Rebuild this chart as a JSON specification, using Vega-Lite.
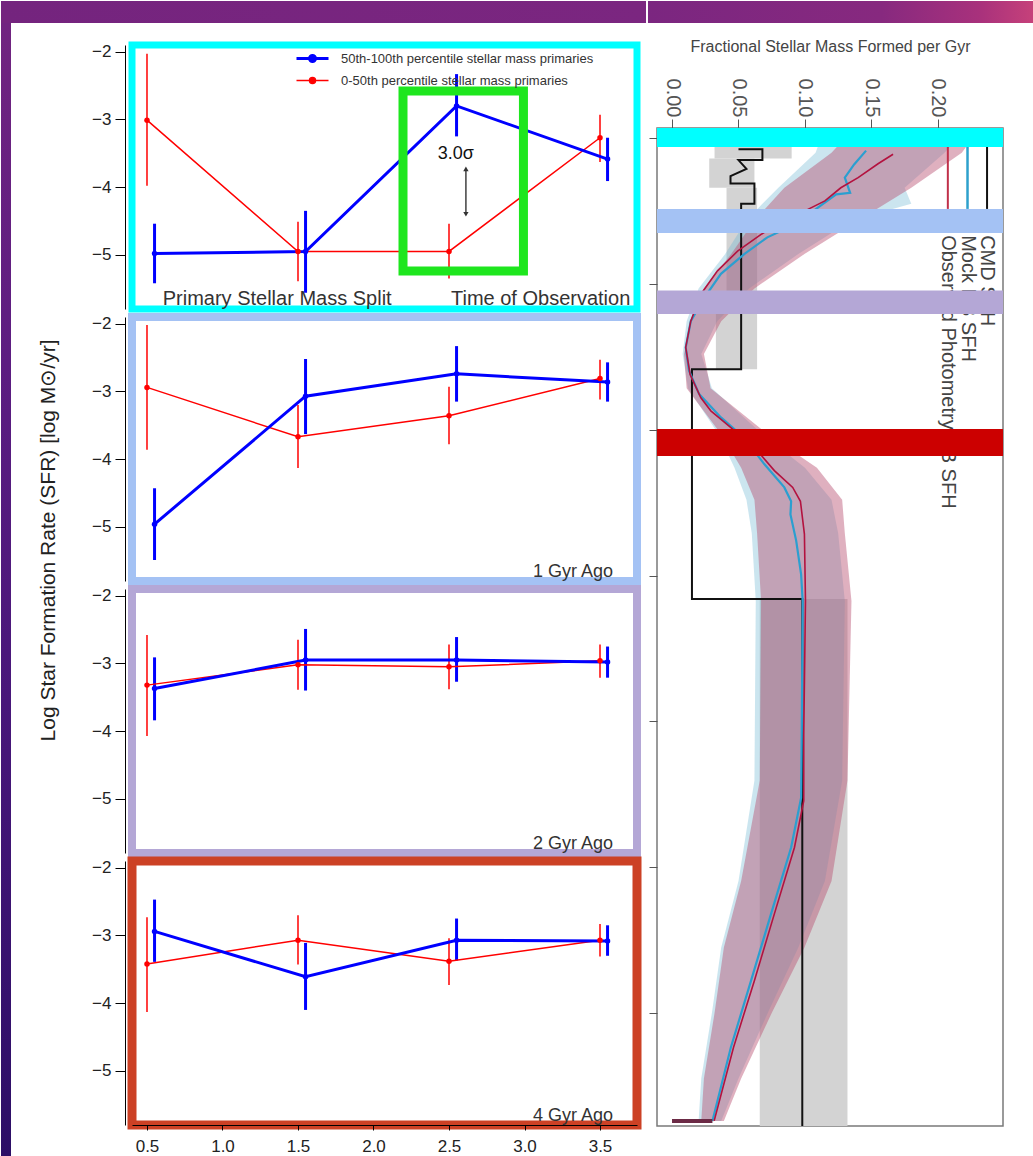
{
"$schema": "https://vega.github.io/schema/vega-lite/v6.json",
"padding": 0,
"background": "#ffffff",
"config": {
  "font": "Liberation Sans",
  "view": {"stroke": null},
  "axis": {"grid": false, "titleFontWeight": "normal"},
  "legend": {"padding": 0}
},
"datasets": {
  "sfr": [
    {"panel": "obs", "series": "low", "x": 0.5, "y": -3.01, "lo": -3.98, "hi": -2.03},
    {"panel": "obs", "series": "low", "x": 1.5, "y": -4.95, "lo": -5.39, "hi": -4.51},
    {"panel": "obs", "series": "low", "x": 2.5, "y": -4.95, "lo": -5.35, "hi": -4.54},
    {"panel": "obs", "series": "low", "x": 3.5, "y": -3.27, "lo": -3.63, "hi": -2.93},
    {"panel": "obs", "series": "high", "x": 0.55, "y": -4.98, "lo": -5.42, "hi": -4.54},
    {"panel": "obs", "series": "high", "x": 1.55, "y": -4.95, "lo": -5.56, "hi": -4.35},
    {"panel": "obs", "series": "high", "x": 2.55, "y": -2.80, "lo": -3.25, "hi": -2.33},
    {"panel": "obs", "series": "high", "x": 3.55, "y": -3.585, "lo": -3.91, "hi": -3.27},
    {"panel": "g1", "series": "low", "x": 0.5, "y": -2.94, "lo": -3.86, "hi": -2.02},
    {"panel": "g1", "series": "low", "x": 1.5, "y": -3.67, "lo": -4.13, "hi": -3.20},
    {"panel": "g1", "series": "low", "x": 2.5, "y": -3.36, "lo": -3.78, "hi": -2.93},
    {"panel": "g1", "series": "low", "x": 3.5, "y": -2.81, "lo": -3.12, "hi": -2.53},
    {"panel": "g1", "series": "high", "x": 0.55, "y": -4.96, "lo": -5.49, "hi": -4.43},
    {"panel": "g1", "series": "high", "x": 1.55, "y": -3.07, "lo": -3.63, "hi": -2.52},
    {"panel": "g1", "series": "high", "x": 2.55, "y": -2.74, "lo": -3.15, "hi": -2.33},
    {"panel": "g1", "series": "high", "x": 3.55, "y": -2.86, "lo": -3.15, "hi": -2.57},
    {"panel": "g2", "series": "low", "x": 0.5, "y": -3.32, "lo": -4.07, "hi": -2.58},
    {"panel": "g2", "series": "low", "x": 1.5, "y": -3.02, "lo": -3.39, "hi": -2.65},
    {"panel": "g2", "series": "low", "x": 2.5, "y": -3.05, "lo": -3.38, "hi": -2.72},
    {"panel": "g2", "series": "low", "x": 3.5, "y": -2.96, "lo": -3.21, "hi": -2.72},
    {"panel": "g2", "series": "high", "x": 0.55, "y": -3.37, "lo": -3.84, "hi": -2.91},
    {"panel": "g2", "series": "high", "x": 1.55, "y": -2.95, "lo": -3.40, "hi": -2.49},
    {"panel": "g2", "series": "high", "x": 2.55, "y": -2.95, "lo": -3.27, "hi": -2.61},
    {"panel": "g2", "series": "high", "x": 3.55, "y": -2.98, "lo": -3.21, "hi": -2.75},
    {"panel": "g4", "series": "low", "x": 0.5, "y": -3.42, "lo": -4.13, "hi": -2.73},
    {"panel": "g4", "series": "low", "x": 1.5, "y": -3.07, "lo": -3.43, "hi": -2.70},
    {"panel": "g4", "series": "low", "x": 2.5, "y": -3.38, "lo": -3.73, "hi": -3.04},
    {"panel": "g4", "series": "low", "x": 3.5, "y": -3.07, "lo": -3.31, "hi": -2.83},
    {"panel": "g4", "series": "high", "x": 0.55, "y": -2.94, "lo": -3.39, "hi": -2.47},
    {"panel": "g4", "series": "high", "x": 1.55, "y": -3.61, "lo": -4.10, "hi": -3.11},
    {"panel": "g4", "series": "high", "x": 2.55, "y": -3.07, "lo": -3.37, "hi": -2.75},
    {"panel": "g4", "series": "high", "x": 3.55, "y": -3.08, "lo": -3.30, "hi": -2.85}
  ],
  "cmd": [
    {"i": 0, "f": 0.050, "t": 0.15}, {"i": 1, "f": 0.068, "t": 0.15}, {"i": 2, "f": 0.068, "t": 0.30},
    {"i": 3, "f": 0.050, "t": 0.30}, {"i": 4, "f": 0.056, "t": 0.42}, {"i": 5, "f": 0.044, "t": 0.52},
    {"i": 6, "f": 0.044, "t": 0.62}, {"i": 7, "f": 0.062, "t": 0.62}, {"i": 8, "f": 0.062, "t": 0.90},
    {"i": 9, "f": 0.052, "t": 0.90}, {"i": 10, "f": 0.052, "t": 3.17}, {"i": 11, "f": 0.015, "t": 3.17},
    {"i": 12, "f": 0.015, "t": 6.32}, {"i": 13, "f": 0.098, "t": 6.32}, {"i": 14, "f": 0.098, "t": 13.55}
  ],
  "mock": [
    {"i": 0, "f": 0.146, "t": 0.17}, {"i": 1, "f": 0.137, "t": 0.36}, {"i": 2, "f": 0.130, "t": 0.54},
    {"i": 3, "f": 0.134, "t": 0.75}, {"i": 4, "f": 0.1235, "t": 0.77}, {"i": 5, "f": 0.110, "t": 0.95},
    {"i": 6, "f": 0.0928, "t": 1.18}, {"i": 7, "f": 0.0717, "t": 1.36}, {"i": 8, "f": 0.0543, "t": 1.59},
    {"i": 9, "f": 0.0368, "t": 1.86}, {"i": 10, "f": 0.0242, "t": 2.19}, {"i": 11, "f": 0.0141, "t": 2.51},
    {"i": 12, "f": 0.0103, "t": 2.87}, {"i": 13, "f": 0.0128, "t": 3.19}, {"i": 14, "f": 0.0204, "t": 3.51},
    {"i": 15, "f": 0.0368, "t": 3.83}, {"i": 16, "f": 0.0543, "t": 4.11}, {"i": 17, "f": 0.0694, "t": 4.47},
    {"i": 18, "f": 0.0845, "t": 4.79}, {"i": 19, "f": 0.0896, "t": 4.98}, {"i": 20, "f": 0.0891, "t": 5.16},
    {"i": 21, "f": 0.0934, "t": 5.52}, {"i": 22, "f": 0.0971, "t": 5.98}, {"i": 23, "f": 0.0983, "t": 6.35},
    {"i": 24, "f": 0.0976, "t": 8.17}, {"i": 25, "f": 0.0971, "t": 9.05}, {"i": 26, "f": 0.0896, "t": 9.73},
    {"i": 27, "f": 0.0745, "t": 10.64}, {"i": 28, "f": 0.0594, "t": 11.56}, {"i": 29, "f": 0.0443, "t": 12.47},
    {"i": 30, "f": 0.0304, "t": 13.48}
  ],
  "obs": [
    {"i": 0, "f": 0.1663, "t": 0.22}, {"i": 1, "f": 0.155, "t": 0.35}, {"i": 2, "f": 0.140, "t": 0.54},
    {"i": 3, "f": 0.127, "t": 0.68}, {"i": 4, "f": 0.115, "t": 0.86}, {"i": 5, "f": 0.0996, "t": 1.0},
    {"i": 6, "f": 0.0845, "t": 1.13}, {"i": 7, "f": 0.067, "t": 1.32}, {"i": 8, "f": 0.0493, "t": 1.55},
    {"i": 9, "f": 0.0342, "t": 1.82}, {"i": 10, "f": 0.0217, "t": 2.14}, {"i": 11, "f": 0.0141, "t": 2.51},
    {"i": 12, "f": 0.0103, "t": 2.87}, {"i": 13, "f": 0.0136, "t": 3.24}, {"i": 14, "f": 0.0217, "t": 3.56},
    {"i": 15, "f": 0.0292, "t": 3.74}, {"i": 16, "f": 0.0443, "t": 3.97}, {"i": 17, "f": 0.0619, "t": 4.24},
    {"i": 18, "f": 0.077, "t": 4.56}, {"i": 19, "f": 0.0908, "t": 4.79}, {"i": 20, "f": 0.0966, "t": 4.98},
    {"i": 21, "f": 0.0996, "t": 5.43}, {"i": 22, "f": 0.1004, "t": 6.35}, {"i": 23, "f": 0.0991, "t": 8.18},
    {"i": 24, "f": 0.0991, "t": 9.09}, {"i": 25, "f": 0.0921, "t": 9.73}, {"i": 26, "f": 0.077, "t": 10.64},
    {"i": 27, "f": 0.0619, "t": 11.56}, {"i": 28, "f": 0.0463, "t": 12.47}, {"i": 29, "f": 0.0317, "t": 13.48}
  ],
  "obsband": [
    {"t": 0.1, "lo": 0.125, "hi": 0.222}, {"t": 0.2, "lo": 0.12, "hi": 0.218}, {"t": 0.68, "lo": 0.0845, "hi": 0.18},
    {"t": 1.13, "lo": 0.062, "hi": 0.14}, {"t": 1.59, "lo": 0.0445, "hi": 0.0996}, {"t": 2.06, "lo": 0.024, "hi": 0.062},
    {"t": 2.51, "lo": 0.0143, "hi": 0.037}, {"t": 2.96, "lo": 0.009, "hi": 0.024}, {"t": 3.43, "lo": 0.011, "hi": 0.029},
    {"t": 4.06, "lo": 0.037, "hi": 0.072}, {"t": 4.52, "lo": 0.052, "hi": 0.109}, {"t": 4.96, "lo": 0.062, "hi": 0.128},
    {"t": 5.42, "lo": 0.064, "hi": 0.13}, {"t": 6.35, "lo": 0.067, "hi": 0.135}, {"t": 8.81, "lo": 0.066, "hi": 0.132},
    {"t": 10.19, "lo": 0.052, "hi": 0.12}, {"t": 11.1, "lo": 0.039, "hi": 0.0996}, {"t": 12.0, "lo": 0.032, "hi": 0.075},
    {"t": 12.9, "lo": 0.024, "hi": 0.052}, {"t": 13.48, "lo": 0.022, "hi": 0.039}
  ],
  "mockband": [
    {"t": 0.1, "lo": 0.11, "hi": 0.21}, {"t": 0.2, "lo": 0.108, "hi": 0.205}, {"t": 0.68, "lo": 0.08, "hi": 0.175},
    {"t": 0.9, "lo": 0.068, "hi": 0.18}, {"t": 1.13, "lo": 0.056, "hi": 0.135}, {"t": 1.59, "lo": 0.04, "hi": 0.095},
    {"t": 2.06, "lo": 0.02, "hi": 0.058}, {"t": 2.51, "lo": 0.011, "hi": 0.034}, {"t": 2.96, "lo": 0.008, "hi": 0.022},
    {"t": 3.43, "lo": 0.012, "hi": 0.03}, {"t": 4.06, "lo": 0.035, "hi": 0.068}, {"t": 4.52, "lo": 0.047, "hi": 0.1},
    {"t": 4.96, "lo": 0.056, "hi": 0.12}, {"t": 5.42, "lo": 0.06, "hi": 0.125}, {"t": 6.35, "lo": 0.063, "hi": 0.13},
    {"t": 8.81, "lo": 0.062, "hi": 0.128}, {"t": 10.19, "lo": 0.05, "hi": 0.115}, {"t": 11.1, "lo": 0.037, "hi": 0.095},
    {"t": 12.0, "lo": 0.03, "hi": 0.072}, {"t": 12.9, "lo": 0.022, "hi": 0.05}, {"t": 13.48, "lo": 0.02, "hi": 0.037}
  ],
  "cmdband": [
    {"f1": 0.032, "f2": 0.09, "t1": 0.12, "t2": 0.28},
    {"f1": 0.028, "f2": 0.062, "t1": 0.28, "t2": 0.68},
    {"f1": 0.041, "f2": 0.064, "t1": 0.68, "t2": 2.3},
    {"f1": 0.033, "f2": 0.064, "t1": 2.3, "t2": 3.17},
    {"f1": 0.066, "f2": 0.132, "t1": 6.32, "t2": 13.55}
  ],
  "keys": [
    {"key": "obs", "f": 0.2075, "t1": 0.1, "t2": 0.97, "ts": 1.33, "label": "Observed Photometry DB SFH"},
    {"key": "mock", "f": 0.2223, "t1": 0.1, "t2": 0.97, "ts": 1.33, "label": "Mock DB SFH"},
    {"key": "cmd", "f": 0.237, "t1": 0.1, "t2": 0.97, "ts": 1.33, "label": "CMD SFH"}
  ],
  "highlight": [
    {"band": "obs", "t1": -0.14, "t2": 0.12},
    {"band": "g1", "t1": 0.97, "t2": 1.30},
    {"band": "g2", "t1": 2.09, "t2": 2.41},
    {"band": "g4", "t1": 3.99, "t2": 4.36}
  ]
},
"spacing": 0,
"bounds": "full",
"resolve": {"scale": {"x": "independent", "y": "independent"}},
"hconcat": [
  {
    "spacing": 8,
    "bounds": "flush",
    "resolve": {"scale": {"x": "independent", "y": "independent", "color": "independent", "strokeWidth": "independent", "shape": "independent"}, "legend": {"color": "independent", "strokeWidth": "independent", "shape": "independent"}},
    "vconcat": [
      {
        "width": 505, "height": 14,
        "data": {"values": [{"part": "slide"}]},
        "layer": [
          {
            "mark": {"type": "rect", "color": {"gradient": "linear", "x1": 0, "y1": 0, "x2": 1, "y2": 0, "stops": [{"offset": 0, "color": "#74247e"}, {"offset": 1, "color": "#7b2680"}]}},
            "encoding": {
              "x": {"datum": -0.4669, "type": "quantitative", "scale": {"domain": [0.4007, 3.745], "nice": false, "zero": false}, "axis": null},
              "x2": {"datum": 3.8047},
              "y": {"datum": 2.5714, "type": "quantitative", "scale": {"domain": [0, 1], "nice": false, "zero": false}, "axis": null},
              "y2": {"datum": 1.0}
            }
          },
          {
            "mark": {"type": "rect", "color": {"gradient": "linear", "x1": 0, "y1": 0, "x2": 0, "y2": 1, "stops": [{"offset": 0, "color": "#712480"}, {"offset": 0.3, "color": "#5c1d81"}, {"offset": 0.6, "color": "#48177a"}, {"offset": 1, "color": "#2c0e66"}]}},
            "encoding": {
              "x": {"datum": -0.4669, "type": "quantitative", "axis": null},
              "x2": {"datum": -0.4006},
              "y": {"datum": 1.0, "type": "quantitative", "axis": null},
              "y2": {"datum": -80.0}
            }
          }
        ]
      },
      {
        "width": 505, "height": 264,
        "view": {"stroke": "#00ffff", "strokeWidth": 7},
        "data": {"name": "sfr"},
        "transform": [{"filter": "datum.panel == 'obs'"}],
        "layer": [
          {
            "mark": {"type": "rule"},
            "encoding": {
              "x": {"field": "x", "type": "quantitative", "scale": {"domain": [0.4007, 3.745], "nice": false, "zero": false}, "axis": null},
              "y": {"field": "lo", "type": "quantitative", "scale": {"domain": [-5.8, -1.9], "nice": false, "zero": false}, "axis": {"orient": "left", "values": [-2, -3, -4, -5], "offset": 7, "tickSize": 10, "labelPadding": 4, "labelFontSize": 17, "title": null, "domainColor": "#000000", "tickColor": "#000000", "labelColor": "#222222"}},
              "y2": {"field": "hi"},
              "color": {"field": "series", "type": "nominal", "scale": {"domain": ["high", "low"], "range": ["#0000ff", "#ff0000"]},
                "legend": {"orient": "none", "legendX": 174, "legendY": 7, "title": null, "direction": "vertical",
                  "symbolType": "M-4,0H4M-0.75,0A0.75,0.75,0,1,0,0.75,0A0.75,0.75,0,1,0,-0.75,0Z", "symbolSize": 64,
                  "labelExpr": "datum.value == 'high' ? '50th-100th percentile stellar mass primaries' : '0-50th percentile stellar mass primaries'",
                  "labelFontSize": 13, "labelColor": "#333333", "labelOffset": 22, "labelLimit": 400, "rowPadding": 6, "padding": 0,
                  "encode": {"symbols": {"update": {"fill": {"signal": "datum.value == 'high' ? '#0000ff' : '#ff0000'"}, "stroke": {"signal": "datum.value == 'high' ? '#0000ff' : '#ff0000'"}, "strokeWidth": {"signal": "datum.value == 'high' ? 3 : 1.5"}}}}}},
              "strokeWidth": {"field": "series", "type": "ordinal", "scale": {"domain": ["high", "low"], "range": [3, 1.5]}, "legend": null}
            }
          },
          {
            "mark": {"type": "line"},
            "encoding": {
              "x": {"field": "x", "type": "quantitative", "axis": null},
              "y": {"field": "y", "type": "quantitative", "axis": {"orient": "left", "values": [-2, -3, -4, -5], "offset": 7, "tickSize": 10, "labelPadding": 4, "labelFontSize": 17, "title": null, "domainColor": "#000000", "tickColor": "#000000", "labelColor": "#222222"}},
              "color": {"field": "series", "type": "nominal", "scale": {"domain": ["high", "low"], "range": ["#0000ff", "#ff0000"]},
                "legend": {"orient": "none", "legendX": 174, "legendY": 7, "title": null, "direction": "vertical",
                  "symbolType": "M-4,0H4M-0.75,0A0.75,0.75,0,1,0,0.75,0A0.75,0.75,0,1,0,-0.75,0Z", "symbolSize": 64,
                  "labelExpr": "datum.value == 'high' ? '50th-100th percentile stellar mass primaries' : '0-50th percentile stellar mass primaries'",
                  "labelFontSize": 13, "labelColor": "#333333", "labelOffset": 22, "labelLimit": 400, "rowPadding": 6, "padding": 0,
                  "encode": {"symbols": {"update": {"fill": {"signal": "datum.value == 'high' ? '#0000ff' : '#ff0000'"}, "stroke": {"signal": "datum.value == 'high' ? '#0000ff' : '#ff0000'"}, "strokeWidth": {"signal": "datum.value == 'high' ? 3 : 1.5"}}}}}},
              "strokeWidth": {"field": "series", "type": "ordinal", "scale": {"domain": ["high", "low"], "range": [3, 1.5]}, "legend": null}
            }
          },
          {
            "mark": {"type": "point", "filled": true, "size": 30, "opacity": 1},
            "encoding": {
              "x": {"field": "x", "type": "quantitative", "axis": null},
              "y": {"field": "y", "type": "quantitative", "axis": {"orient": "left", "values": [-2, -3, -4, -5], "offset": 7, "tickSize": 10, "labelPadding": 4, "labelFontSize": 17, "title": null, "domainColor": "#000000", "tickColor": "#000000", "labelColor": "#222222"}},
              "color": {"field": "series", "type": "nominal", "scale": {"domain": ["high", "low"], "range": ["#0000ff", "#ff0000"]},
                "legend": {"orient": "none", "legendX": 174, "legendY": 7, "title": null, "direction": "vertical",
                  "symbolType": "M-4,0H4M-0.75,0A0.75,0.75,0,1,0,0.75,0A0.75,0.75,0,1,0,-0.75,0Z", "symbolSize": 64,
                  "labelExpr": "datum.value == 'high' ? '50th-100th percentile stellar mass primaries' : '0-50th percentile stellar mass primaries'",
                  "labelFontSize": 13, "labelColor": "#333333", "labelOffset": 22, "labelLimit": 400, "rowPadding": 6, "padding": 0,
                  "encode": {"symbols": {"update": {"fill": {"signal": "datum.value == 'high' ? '#0000ff' : '#ff0000'"}, "stroke": {"signal": "datum.value == 'high' ? '#0000ff' : '#ff0000'"}, "strokeWidth": {"signal": "datum.value == 'high' ? 3 : 1.5"}}}}}}
            }
          },
          {
            "data": {"values": [{"x1": 2.1954, "x2": 2.993, "y1": -2.579, "y2": -5.238}]},
            "mark": {"type": "rect", "fillOpacity": 0, "stroke": "#1ee61e", "strokeWidth": 9},
            "encoding": {
              "x": {"field": "x1", "type": "quantitative", "axis": null}, "x2": {"field": "x2"},
              "y": {"field": "y1", "type": "quantitative", "axis": {"orient": "left", "values": [-2, -3, -4, -5], "offset": 7, "tickSize": 10, "labelPadding": 4, "labelFontSize": 17, "title": null, "domainColor": "#000000", "tickColor": "#000000", "labelColor": "#222222"}}, "y2": {"field": "y2"}
            }
          },
          {
            "data": {"values": [{"label": "Primary Stellar Mass Split", "x": 0.604, "y": -5.745}, {"label": "Time of Observation", "x": 2.513, "y": -5.745}]},
            "mark": {"type": "text", "align": "left", "baseline": "alphabetic", "fontSize": 20, "color": "#333333"},
            "encoding": {
              "x": {"field": "x", "type": "quantitative", "axis": null},
              "y": {"field": "y", "type": "quantitative", "axis": {"orient": "left", "values": [-2, -3, -4, -5], "offset": 7, "tickSize": 10, "labelPadding": 4, "labelFontSize": 17, "title": null, "domainColor": "#000000", "tickColor": "#000000", "labelColor": "#222222"}},
              "text": {"field": "label"}
            }
          },
          {
            "data": {"values": [{"label": "3.0σ", "x": 2.425, "y": -3.584}]},
            "mark": {"type": "text", "align": "left", "baseline": "alphabetic", "fontSize": 18, "color": "#111111"},
            "encoding": {
              "x": {"field": "x", "type": "quantitative", "axis": null},
              "y": {"field": "y", "type": "quantitative", "axis": {"orient": "left", "values": [-2, -3, -4, -5], "offset": 7, "tickSize": 10, "labelPadding": 4, "labelFontSize": 17, "title": null, "domainColor": "#000000", "tickColor": "#000000", "labelColor": "#222222"}},
              "text": {"field": "label"}
            }
          },
          {
            "data": {"values": [{"x": 2.612, "y1": -3.73, "y2": -4.40}]},
            "mark": {"type": "rule", "color": "#333333", "strokeWidth": 1.4},
            "encoding": {
              "x": {"field": "x", "type": "quantitative", "axis": null},
              "y": {"field": "y1", "type": "quantitative", "axis": {"orient": "left", "values": [-2, -3, -4, -5], "offset": 7, "tickSize": 10, "labelPadding": 4, "labelFontSize": 17, "title": null, "domainColor": "#000000", "tickColor": "#000000", "labelColor": "#222222"}}, "y2": {"field": "y2"}
            }
          },
          {
            "data": {"values": [{"x": 2.612, "y": -3.73, "dir": "up"}, {"x": 2.612, "y": -4.40, "dir": "down"}]},
            "mark": {"type": "point", "filled": true, "size": 28, "color": "#333333", "opacity": 1},
            "encoding": {
              "x": {"field": "x", "type": "quantitative", "axis": null},
              "y": {"field": "y", "type": "quantitative", "axis": {"orient": "left", "values": [-2, -3, -4, -5], "offset": 7, "tickSize": 10, "labelPadding": 4, "labelFontSize": 17, "title": null, "domainColor": "#000000", "tickColor": "#000000", "labelColor": "#222222"}},
              "shape": {"field": "dir", "type": "nominal", "scale": {"domain": ["up", "down"], "range": ["triangle-up", "triangle-down"]}, "legend": null}
            }
          }
        ]
      },
      {
        "width": 505, "height": 264,
        "view": {"stroke": "#a4c2f4", "strokeWidth": 8},
        "data": {"name": "sfr"},
        "transform": [{"filter": "datum.panel == 'g1'"}],
        "layer": [
          {
            "mark": {"type": "rule"},
            "encoding": {
              "x": {"field": "x", "type": "quantitative", "scale": {"domain": [0.4007, 3.745], "nice": false, "zero": false}, "axis": null},
              "y": {"field": "lo", "type": "quantitative", "scale": {"domain": [-5.8, -1.9], "nice": false, "zero": false}, "axis": {"orient": "left", "values": [-2, -3, -4, -5], "offset": 7, "tickSize": 10, "labelPadding": 4, "labelFontSize": 17, "domainColor": "#000000", "tickColor": "#000000", "labelColor": "#222222", "title": "Log Star Formation Rate (SFR) [log M⊙/yr]", "titleFontSize": 21, "titleFontWeight": "normal", "titleColor": "#222222", "titleAngle": 270, "titleAlign": "center", "titleBaseline": "alphabetic", "titleX": -71, "titleY": 223}},
              "y2": {"field": "hi"},
              "color": {"field": "series", "type": "nominal", "scale": {"domain": ["high", "low"], "range": ["#0000ff", "#ff0000"]}, "legend": null},
              "strokeWidth": {"field": "series", "type": "ordinal", "scale": {"domain": ["high", "low"], "range": [3, 1.5]}, "legend": null}
            }
          },
          {
            "mark": {"type": "line"},
            "encoding": {
              "x": {"field": "x", "type": "quantitative", "axis": null},
              "y": {"field": "y", "type": "quantitative", "axis": {"orient": "left", "values": [-2, -3, -4, -5], "offset": 7, "tickSize": 10, "labelPadding": 4, "labelFontSize": 17, "domainColor": "#000000", "tickColor": "#000000", "labelColor": "#222222", "title": "Log Star Formation Rate (SFR) [log M⊙/yr]", "titleFontSize": 21, "titleFontWeight": "normal", "titleColor": "#222222", "titleAngle": 270, "titleAlign": "center", "titleBaseline": "alphabetic", "titleX": -71, "titleY": 223}},
              "color": {"field": "series", "type": "nominal", "scale": {"domain": ["high", "low"], "range": ["#0000ff", "#ff0000"]}, "legend": null},
              "strokeWidth": {"field": "series", "type": "ordinal", "scale": {"domain": ["high", "low"], "range": [3, 1.5]}, "legend": null}
            }
          },
          {
            "mark": {"type": "point", "filled": true, "size": 30, "opacity": 1},
            "encoding": {
              "x": {"field": "x", "type": "quantitative", "axis": null},
              "y": {"field": "y", "type": "quantitative", "axis": {"orient": "left", "values": [-2, -3, -4, -5], "offset": 7, "tickSize": 10, "labelPadding": 4, "labelFontSize": 17, "domainColor": "#000000", "tickColor": "#000000", "labelColor": "#222222", "title": "Log Star Formation Rate (SFR) [log M⊙/yr]", "titleFontSize": 21, "titleFontWeight": "normal", "titleColor": "#222222", "titleAngle": 270, "titleAlign": "center", "titleBaseline": "alphabetic", "titleX": -71, "titleY": 223}},
              "color": {"field": "series", "type": "nominal", "scale": {"domain": ["high", "low"], "range": ["#0000ff", "#ff0000"]}, "legend": null}
            }
          },
          {
            "data": {"values": [{"label": "1 Gyr Ago", "x": 3.586, "y": -5.74}]},
            "mark": {"type": "text", "align": "right", "baseline": "alphabetic", "fontSize": 18, "color": "#333333"},
            "encoding": {
              "x": {"field": "x", "type": "quantitative", "axis": null},
              "y": {"field": "y", "type": "quantitative", "axis": {"orient": "left", "values": [-2, -3, -4, -5], "offset": 7, "tickSize": 10, "labelPadding": 4, "labelFontSize": 17, "domainColor": "#000000", "tickColor": "#000000", "labelColor": "#222222", "title": "Log Star Formation Rate (SFR) [log M⊙/yr]", "titleFontSize": 21, "titleFontWeight": "normal", "titleColor": "#222222", "titleAngle": 270, "titleAlign": "center", "titleBaseline": "alphabetic", "titleX": -71, "titleY": 223}},
              "text": {"field": "label"}
            }
          }
        ]
      },
      {
        "width": 505, "height": 264,
        "view": {"stroke": "#b4a7d6", "strokeWidth": 8},
        "data": {"name": "sfr"},
        "transform": [{"filter": "datum.panel == 'g2'"}],
        "layer": [
          {
            "mark": {"type": "rule"},
            "encoding": {
              "x": {"field": "x", "type": "quantitative", "scale": {"domain": [0.4007, 3.745], "nice": false, "zero": false}, "axis": null},
              "y": {"field": "lo", "type": "quantitative", "scale": {"domain": [-5.8, -1.9], "nice": false, "zero": false}, "axis": {"orient": "left", "values": [-2, -3, -4, -5], "offset": 7, "tickSize": 10, "labelPadding": 4, "labelFontSize": 17, "title": null, "domainColor": "#000000", "tickColor": "#000000", "labelColor": "#222222"}},
              "y2": {"field": "hi"},
              "color": {"field": "series", "type": "nominal", "scale": {"domain": ["high", "low"], "range": ["#0000ff", "#ff0000"]}, "legend": null},
              "strokeWidth": {"field": "series", "type": "ordinal", "scale": {"domain": ["high", "low"], "range": [3, 1.5]}, "legend": null}
            }
          },
          {
            "mark": {"type": "line"},
            "encoding": {
              "x": {"field": "x", "type": "quantitative", "axis": null},
              "y": {"field": "y", "type": "quantitative", "axis": {"orient": "left", "values": [-2, -3, -4, -5], "offset": 7, "tickSize": 10, "labelPadding": 4, "labelFontSize": 17, "title": null, "domainColor": "#000000", "tickColor": "#000000", "labelColor": "#222222"}},
              "color": {"field": "series", "type": "nominal", "scale": {"domain": ["high", "low"], "range": ["#0000ff", "#ff0000"]}, "legend": null},
              "strokeWidth": {"field": "series", "type": "ordinal", "scale": {"domain": ["high", "low"], "range": [3, 1.5]}, "legend": null}
            }
          },
          {
            "mark": {"type": "point", "filled": true, "size": 30, "opacity": 1},
            "encoding": {
              "x": {"field": "x", "type": "quantitative", "axis": null},
              "y": {"field": "y", "type": "quantitative", "axis": {"orient": "left", "values": [-2, -3, -4, -5], "offset": 7, "tickSize": 10, "labelPadding": 4, "labelFontSize": 17, "title": null, "domainColor": "#000000", "tickColor": "#000000", "labelColor": "#222222"}},
              "color": {"field": "series", "type": "nominal", "scale": {"domain": ["high", "low"], "range": ["#0000ff", "#ff0000"]}, "legend": null}
            }
          },
          {
            "data": {"values": [{"label": "2 Gyr Ago", "x": 3.586, "y": -5.74}]},
            "mark": {"type": "text", "align": "right", "baseline": "alphabetic", "fontSize": 18, "color": "#333333"},
            "encoding": {
              "x": {"field": "x", "type": "quantitative", "axis": null},
              "y": {"field": "y", "type": "quantitative", "axis": {"orient": "left", "values": [-2, -3, -4, -5], "offset": 7, "tickSize": 10, "labelPadding": 4, "labelFontSize": 17, "title": null, "domainColor": "#000000", "tickColor": "#000000", "labelColor": "#222222"}},
              "text": {"field": "label"}
            }
          }
        ]
      },
      {
        "width": 505, "height": 264,
        "view": {"stroke": "#cc4125", "strokeWidth": 9},
        "data": {"name": "sfr"},
        "transform": [{"filter": "datum.panel == 'g4'"}],
        "layer": [
          {
            "mark": {"type": "rule"},
            "encoding": {
              "x": {"field": "x", "type": "quantitative", "scale": {"domain": [0.4007, 3.745], "nice": false, "zero": false}, "axis": {"orient": "bottom", "values": [0.5, 1, 1.5, 2, 2.5, 3, 3.5], "format": ".1f", "labelFontSize": 17, "tickSize": 5, "labelPadding": 8, "title": null, "domainColor": "#000000", "tickColor": "#000000", "labelColor": "#222222"}},
              "y": {"field": "lo", "type": "quantitative", "scale": {"domain": [-5.8, -1.9], "nice": false, "zero": false}, "axis": {"orient": "left", "values": [-2, -3, -4, -5], "offset": 7, "tickSize": 10, "labelPadding": 4, "labelFontSize": 17, "title": null, "domainColor": "#000000", "tickColor": "#000000", "labelColor": "#222222"}},
              "y2": {"field": "hi"},
              "color": {"field": "series", "type": "nominal", "scale": {"domain": ["high", "low"], "range": ["#0000ff", "#ff0000"]}, "legend": null},
              "strokeWidth": {"field": "series", "type": "ordinal", "scale": {"domain": ["high", "low"], "range": [3, 1.5]}, "legend": null}
            }
          },
          {
            "mark": {"type": "line"},
            "encoding": {
              "x": {"field": "x", "type": "quantitative", "axis": {"orient": "bottom", "values": [0.5, 1, 1.5, 2, 2.5, 3, 3.5], "format": ".1f", "labelFontSize": 17, "tickSize": 5, "labelPadding": 8, "title": null, "domainColor": "#000000", "tickColor": "#000000", "labelColor": "#222222"}},
              "y": {"field": "y", "type": "quantitative", "axis": {"orient": "left", "values": [-2, -3, -4, -5], "offset": 7, "tickSize": 10, "labelPadding": 4, "labelFontSize": 17, "title": null, "domainColor": "#000000", "tickColor": "#000000", "labelColor": "#222222"}},
              "color": {"field": "series", "type": "nominal", "scale": {"domain": ["high", "low"], "range": ["#0000ff", "#ff0000"]}, "legend": null},
              "strokeWidth": {"field": "series", "type": "ordinal", "scale": {"domain": ["high", "low"], "range": [3, 1.5]}, "legend": null}
            }
          },
          {
            "mark": {"type": "point", "filled": true, "size": 30, "opacity": 1},
            "encoding": {
              "x": {"field": "x", "type": "quantitative", "axis": {"orient": "bottom", "values": [0.5, 1, 1.5, 2, 2.5, 3, 3.5], "format": ".1f", "labelFontSize": 17, "tickSize": 5, "labelPadding": 8, "title": null, "domainColor": "#000000", "tickColor": "#000000", "labelColor": "#222222"}},
              "y": {"field": "y", "type": "quantitative", "axis": {"orient": "left", "values": [-2, -3, -4, -5], "offset": 7, "tickSize": 10, "labelPadding": 4, "labelFontSize": 17, "title": null, "domainColor": "#000000", "tickColor": "#000000", "labelColor": "#222222"}},
              "color": {"field": "series", "type": "nominal", "scale": {"domain": ["high", "low"], "range": ["#0000ff", "#ff0000"]}, "legend": null}
            }
          },
          {
            "data": {"values": [{"label": "4 Gyr Ago", "x": 3.586, "y": -5.74}]},
            "mark": {"type": "text", "align": "right", "baseline": "alphabetic", "fontSize": 18, "color": "#333333"},
            "encoding": {
              "x": {"field": "x", "type": "quantitative", "axis": {"orient": "bottom", "values": [0.5, 1, 1.5, 2, 2.5, 3, 3.5], "format": ".1f", "labelFontSize": 17, "tickSize": 5, "labelPadding": 8, "title": null, "domainColor": "#000000", "tickColor": "#000000", "labelColor": "#222222"}},
              "y": {"field": "y", "type": "quantitative", "axis": {"orient": "left", "values": [-2, -3, -4, -5], "offset": 7, "tickSize": 10, "labelPadding": 4, "labelFontSize": 17, "title": null, "domainColor": "#000000", "tickColor": "#000000", "labelColor": "#222222"}},
              "text": {"field": "label"}
            }
          }
        ]
      }
    ]
  },
  {
    "spacing": 8,
    "bounds": "flush",
    "resolve": {"scale": {"x": "independent", "y": "independent"}},
    "vconcat": [
      {
        "width": 346, "height": 97,
        "data": {"values": [{"v": 0}]},
        "mark": {"type": "point", "opacity": 0},
        "encoding": {"y": {"field": "v", "type": "quantitative", "axis": {"orient": "left", "offset": 8, "domainColor": "#ffffff", "ticks": false, "labels": false, "title": null}}}
      },
      {
        "width": 346, "height": 998,
        "view": {"stroke": "#7a7a7a", "strokeWidth": 1.5},
        "layer": [
          {
            "data": {"values": [{"part": "slide top right"}]},
            "mark": {"type": "rect", "color": {"gradient": "linear", "x1": 0, "y1": 0, "x2": 1, "y2": 0, "stops": [{"offset": 0, "color": "#7b2680"}, {"offset": 0.6, "color": "#87297f"}, {"offset": 0.85, "color": "#a8317c"}, {"offset": 1, "color": "#c8427a"}]}},
            "encoding": {
              "x": {"datum": -0.01809, "type": "quantitative", "scale": {"domain": [-0.0113, 0.249], "nice": false, "zero": false}, "axis": {"orient": "top", "values": [0, 0.05, 0.1, 0.15, 0.2], "format": ".2f", "labelAngle": 90, "labelAlign": "right", "labelBaseline": "middle", "labelFontSize": 20, "labelColor": "#555555", "tickColor": "#555555", "tickSize": 9, "labelPadding": 2, "domain": false, "title": "Fractional Stellar Mass Formed per Gyr", "titleFontSize": 16, "titleColor": "#444444", "titlePadding": 24, "titleFontWeight": "normal"}},
              "x2": {"datum": 0.2747},
              "y": {"datum": -1.882, "type": "quantitative", "scale": {"domain": [-0.14, 13.55], "nice": false, "zero": false, "reverse": true}, "axis": {"orient": "left", "values": [0, 2, 4, 6, 8, 10, 12], "labels": false, "tickSize": 8, "tickColor": "#555555", "domain": false, "title": null}},
              "y2": {"datum": -1.58}
            }
          },
          {
            "data": {"name": "cmdband"},
            "mark": {"type": "rect", "color": "#d3d3d3"},
            "encoding": {
              "x": {"field": "f1", "type": "quantitative", "axis": {"orient": "top", "values": [0, 0.05, 0.1, 0.15, 0.2], "format": ".2f", "labelAngle": 90, "labelAlign": "right", "labelBaseline": "middle", "labelFontSize": 20, "labelColor": "#555555", "tickColor": "#555555", "tickSize": 9, "labelPadding": 2, "domain": false, "title": "Fractional Stellar Mass Formed per Gyr", "titleFontSize": 16, "titleColor": "#444444", "titlePadding": 24, "titleFontWeight": "normal"}},
              "x2": {"field": "f2"},
              "y": {"field": "t1", "type": "quantitative", "axis": {"orient": "left", "values": [0, 2, 4, 6, 8, 10, 12], "labels": false, "tickSize": 8, "tickColor": "#555555", "domain": false, "title": null}},
              "y2": {"field": "t2"}
            }
          },
          {
            "data": {"name": "mockband"},
            "mark": {"type": "area", "orient": "horizontal", "color": "#6ab4d0", "opacity": 0.35},
            "encoding": {
              "y": {"field": "t", "type": "quantitative", "axis": {"orient": "left", "values": [0, 2, 4, 6, 8, 10, 12], "labels": false, "tickSize": 8, "tickColor": "#555555", "domain": false, "title": null}},
              "x": {"field": "lo", "type": "quantitative", "axis": {"orient": "top", "values": [0, 0.05, 0.1, 0.15, 0.2], "format": ".2f", "labelAngle": 90, "labelAlign": "right", "labelBaseline": "middle", "labelFontSize": 20, "labelColor": "#555555", "tickColor": "#555555", "tickSize": 9, "labelPadding": 2, "domain": false, "title": "Fractional Stellar Mass Formed per Gyr", "titleFontSize": 16, "titleColor": "#444444", "titlePadding": 24, "titleFontWeight": "normal"}},
              "x2": {"field": "hi"}
            }
          },
          {
            "data": {"name": "obsband"},
            "mark": {"type": "area", "orient": "horizontal", "color": "#b85070", "opacity": 0.45},
            "encoding": {
              "y": {"field": "t", "type": "quantitative", "axis": {"orient": "left", "values": [0, 2, 4, 6, 8, 10, 12], "labels": false, "tickSize": 8, "tickColor": "#555555", "domain": false, "title": null}},
              "x": {"field": "lo", "type": "quantitative", "axis": {"orient": "top", "values": [0, 0.05, 0.1, 0.15, 0.2], "format": ".2f", "labelAngle": 90, "labelAlign": "right", "labelBaseline": "middle", "labelFontSize": 20, "labelColor": "#555555", "tickColor": "#555555", "tickSize": 9, "labelPadding": 2, "domain": false, "title": "Fractional Stellar Mass Formed per Gyr", "titleFontSize": 16, "titleColor": "#444444", "titlePadding": 24, "titleFontWeight": "normal"}},
              "x2": {"field": "hi"}
            }
          },
          {
            "data": {"name": "cmd"},
            "mark": {"type": "line", "color": "#111111", "strokeWidth": 2},
            "encoding": {
              "x": {"field": "f", "type": "quantitative", "axis": {"orient": "top", "values": [0, 0.05, 0.1, 0.15, 0.2], "format": ".2f", "labelAngle": 90, "labelAlign": "right", "labelBaseline": "middle", "labelFontSize": 20, "labelColor": "#555555", "tickColor": "#555555", "tickSize": 9, "labelPadding": 2, "domain": false, "title": "Fractional Stellar Mass Formed per Gyr", "titleFontSize": 16, "titleColor": "#444444", "titlePadding": 24, "titleFontWeight": "normal"}},
              "y": {"field": "t", "type": "quantitative", "axis": {"orient": "left", "values": [0, 2, 4, 6, 8, 10, 12], "labels": false, "tickSize": 8, "tickColor": "#555555", "domain": false, "title": null}},
              "order": {"field": "i"}
            }
          },
          {
            "data": {"name": "mock"},
            "mark": {"type": "line", "color": "#2b9fd0", "strokeWidth": 2.2},
            "encoding": {
              "x": {"field": "f", "type": "quantitative", "axis": {"orient": "top", "values": [0, 0.05, 0.1, 0.15, 0.2], "format": ".2f", "labelAngle": 90, "labelAlign": "right", "labelBaseline": "middle", "labelFontSize": 20, "labelColor": "#555555", "tickColor": "#555555", "tickSize": 9, "labelPadding": 2, "domain": false, "title": "Fractional Stellar Mass Formed per Gyr", "titleFontSize": 16, "titleColor": "#444444", "titlePadding": 24, "titleFontWeight": "normal"}},
              "y": {"field": "t", "type": "quantitative", "axis": {"orient": "left", "values": [0, 2, 4, 6, 8, 10, 12], "labels": false, "tickSize": 8, "tickColor": "#555555", "domain": false, "title": null}},
              "order": {"field": "i"}
            }
          },
          {
            "data": {"name": "obs"},
            "mark": {"type": "line", "color": "#b3123f", "strokeWidth": 1.6},
            "encoding": {
              "x": {"field": "f", "type": "quantitative", "axis": {"orient": "top", "values": [0, 0.05, 0.1, 0.15, 0.2], "format": ".2f", "labelAngle": 90, "labelAlign": "right", "labelBaseline": "middle", "labelFontSize": 20, "labelColor": "#555555", "tickColor": "#555555", "tickSize": 9, "labelPadding": 2, "domain": false, "title": "Fractional Stellar Mass Formed per Gyr", "titleFontSize": 16, "titleColor": "#444444", "titlePadding": 24, "titleFontWeight": "normal"}},
              "y": {"field": "t", "type": "quantitative", "axis": {"orient": "left", "values": [0, 2, 4, 6, 8, 10, 12], "labels": false, "tickSize": 8, "tickColor": "#555555", "domain": false, "title": null}},
              "order": {"field": "i"}
            }
          },
          {
            "data": {"values": [{"f": 0.0, "f2": 0.0304, "t": 13.48}]},
            "mark": {"type": "rule", "color": "#6b2a45", "strokeWidth": 4},
            "encoding": {
              "x": {"field": "f", "type": "quantitative", "axis": {"orient": "top", "values": [0, 0.05, 0.1, 0.15, 0.2], "format": ".2f", "labelAngle": 90, "labelAlign": "right", "labelBaseline": "middle", "labelFontSize": 20, "labelColor": "#555555", "tickColor": "#555555", "tickSize": 9, "labelPadding": 2, "domain": false, "title": "Fractional Stellar Mass Formed per Gyr", "titleFontSize": 16, "titleColor": "#444444", "titlePadding": 24, "titleFontWeight": "normal"}},
              "x2": {"field": "f2"},
              "y": {"field": "t", "type": "quantitative", "axis": {"orient": "left", "values": [0, 2, 4, 6, 8, 10, 12], "labels": false, "tickSize": 8, "tickColor": "#555555", "domain": false, "title": null}}
            }
          },
          {
            "data": {"name": "keys"},
            "transform": [{"filter": "datum.key == 'obs'"}],
            "mark": {"type": "rule", "color": "#c0304a", "strokeWidth": 2},
            "encoding": {
              "x": {"field": "f", "type": "quantitative", "axis": {"orient": "top", "values": [0, 0.05, 0.1, 0.15, 0.2], "format": ".2f", "labelAngle": 90, "labelAlign": "right", "labelBaseline": "middle", "labelFontSize": 20, "labelColor": "#555555", "tickColor": "#555555", "tickSize": 9, "labelPadding": 2, "domain": false, "title": "Fractional Stellar Mass Formed per Gyr", "titleFontSize": 16, "titleColor": "#444444", "titlePadding": 24, "titleFontWeight": "normal"}},
              "y": {"field": "t1", "type": "quantitative", "axis": {"orient": "left", "values": [0, 2, 4, 6, 8, 10, 12], "labels": false, "tickSize": 8, "tickColor": "#555555", "domain": false, "title": null}},
              "y2": {"field": "t2"}
            }
          },
          {
            "data": {"name": "keys"},
            "transform": [{"filter": "datum.key == 'mock'"}],
            "mark": {"type": "rule", "color": "#2ea0cc", "strokeWidth": 2.5},
            "encoding": {
              "x": {"field": "f", "type": "quantitative", "axis": {"orient": "top", "values": [0, 0.05, 0.1, 0.15, 0.2], "format": ".2f", "labelAngle": 90, "labelAlign": "right", "labelBaseline": "middle", "labelFontSize": 20, "labelColor": "#555555", "tickColor": "#555555", "tickSize": 9, "labelPadding": 2, "domain": false, "title": "Fractional Stellar Mass Formed per Gyr", "titleFontSize": 16, "titleColor": "#444444", "titlePadding": 24, "titleFontWeight": "normal"}},
              "y": {"field": "t1", "type": "quantitative", "axis": {"orient": "left", "values": [0, 2, 4, 6, 8, 10, 12], "labels": false, "tickSize": 8, "tickColor": "#555555", "domain": false, "title": null}},
              "y2": {"field": "t2"}
            }
          },
          {
            "data": {"name": "keys"},
            "transform": [{"filter": "datum.key == 'cmd'"}],
            "mark": {"type": "rule", "color": "#111111", "strokeWidth": 2},
            "encoding": {
              "x": {"field": "f", "type": "quantitative", "axis": {"orient": "top", "values": [0, 0.05, 0.1, 0.15, 0.2], "format": ".2f", "labelAngle": 90, "labelAlign": "right", "labelBaseline": "middle", "labelFontSize": 20, "labelColor": "#555555", "tickColor": "#555555", "tickSize": 9, "labelPadding": 2, "domain": false, "title": "Fractional Stellar Mass Formed per Gyr", "titleFontSize": 16, "titleColor": "#444444", "titlePadding": 24, "titleFontWeight": "normal"}},
              "y": {"field": "t1", "type": "quantitative", "axis": {"orient": "left", "values": [0, 2, 4, 6, 8, 10, 12], "labels": false, "tickSize": 8, "tickColor": "#555555", "domain": false, "title": null}},
              "y2": {"field": "t2"}
            }
          },
          {
            "data": {"name": "keys"},
            "mark": {"type": "text", "angle": 90, "align": "left", "baseline": "middle", "fontSize": 20, "color": "#444444"},
            "encoding": {
              "x": {"field": "f", "type": "quantitative", "axis": {"orient": "top", "values": [0, 0.05, 0.1, 0.15, 0.2], "format": ".2f", "labelAngle": 90, "labelAlign": "right", "labelBaseline": "middle", "labelFontSize": 20, "labelColor": "#555555", "tickColor": "#555555", "tickSize": 9, "labelPadding": 2, "domain": false, "title": "Fractional Stellar Mass Formed per Gyr", "titleFontSize": 16, "titleColor": "#444444", "titlePadding": 24, "titleFontWeight": "normal"}},
              "y": {"field": "ts", "type": "quantitative", "axis": {"orient": "left", "values": [0, 2, 4, 6, 8, 10, 12], "labels": false, "tickSize": 8, "tickColor": "#555555", "domain": false, "title": null}},
              "text": {"field": "label"}
            }
          },
          {
            "data": {"name": "highlight"},
            "transform": [{"filter": "datum.band == 'obs'"}],
            "mark": {"type": "rect", "color": "#00ffff", "opacity": 1},
            "encoding": {"y": {"field": "t1", "type": "quantitative", "axis": {"orient": "left", "values": [0, 2, 4, 6, 8, 10, 12], "labels": false, "tickSize": 8, "tickColor": "#555555", "domain": false, "title": null}}, "y2": {"field": "t2"}}
          },
          {
            "data": {"name": "highlight"},
            "transform": [{"filter": "datum.band == 'g1'"}],
            "mark": {"type": "rect", "color": "#a4c2f4", "opacity": 1},
            "encoding": {"y": {"field": "t1", "type": "quantitative", "axis": {"orient": "left", "values": [0, 2, 4, 6, 8, 10, 12], "labels": false, "tickSize": 8, "tickColor": "#555555", "domain": false, "title": null}}, "y2": {"field": "t2"}}
          },
          {
            "data": {"name": "highlight"},
            "transform": [{"filter": "datum.band == 'g2'"}],
            "mark": {"type": "rect", "color": "#b4a7d6", "opacity": 1},
            "encoding": {"y": {"field": "t1", "type": "quantitative", "axis": {"orient": "left", "values": [0, 2, 4, 6, 8, 10, 12], "labels": false, "tickSize": 8, "tickColor": "#555555", "domain": false, "title": null}}, "y2": {"field": "t2"}}
          },
          {
            "data": {"name": "highlight"},
            "transform": [{"filter": "datum.band == 'g4'"}],
            "mark": {"type": "rect", "color": "#cc0000", "opacity": 1},
            "encoding": {"y": {"field": "t1", "type": "quantitative", "axis": {"orient": "left", "values": [0, 2, 4, 6, 8, 10, 12], "labels": false, "tickSize": 8, "tickColor": "#555555", "domain": false, "title": null}}, "y2": {"field": "t2"}}
          }
        ]
      }
    ]
  }
]
}
